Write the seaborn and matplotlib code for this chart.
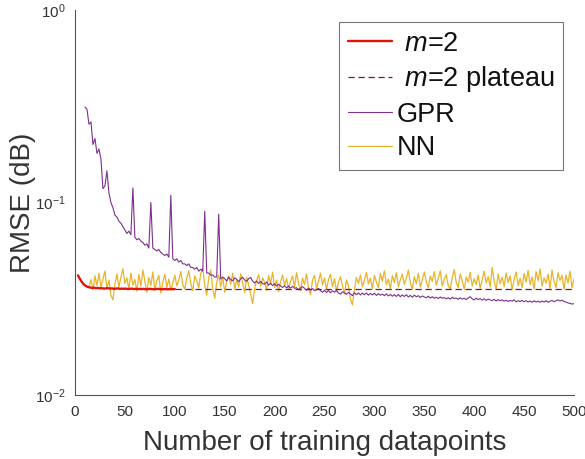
import numpy as np
import pandas as pd
import matplotlib
matplotlib.use("Agg")
import matplotlib.pyplot as plt
import seaborn as sns
from matplotlib.ticker import LogLocator, FixedLocator

# ---------------- data ----------------
m2_x = [3, 5, 7, 9, 11, 13, 15, 17, 19, 21, 23, 25, 27, 29, 31, 33, 35, 37, 39, 41,
        43, 45, 47, 49, 51, 53, 55, 57, 59, 61, 63, 65, 67, 69, 71, 73, 75, 77, 79, 81,
        83, 85, 87, 89, 91, 93, 95, 97, 100]
m2_rmse = [0.0418, 0.0400, 0.0385, 0.0375, 0.0368, 0.0364, 0.0362, 0.0360, 0.0361, 0.0359,
           0.0360, 0.0358, 0.0359, 0.0357, 0.0358, 0.0359, 0.0357, 0.0358, 0.0356, 0.0357,
           0.0358, 0.0356, 0.0357, 0.0356, 0.0357, 0.0355, 0.0356, 0.0357, 0.0355, 0.0356,
           0.0355, 0.0356, 0.0355, 0.0356, 0.0354, 0.0355, 0.0356, 0.0355, 0.0354, 0.0355,
           0.0356, 0.0355, 0.0354, 0.0355, 0.0355, 0.0354, 0.0355, 0.0355, 0.0355]

plateau_x = [100, 500]
plateau_rmse = [0.0355, 0.0355]

gpr_x = list(range(10, 501, 2))
gpr_rmse_milli = [
    313, 305, 255, 262, 200, 215, 180, 190, 168, 118,
    122, 146, 112, 100, 94, 86, 84, 80, 78, 75,
    72, 69, 71, 68, 119, 66, 64, 65, 63, 62,
    60, 61, 58, 100, 58, 57, 56, 57, 55, 54,
    53, 54, 52, 109, 51, 50, 51, 49, 50, 48,
    48, 47, 48, 46, 46, 45, 46, 44, 45, 44,
    90, 43, 43, 42, 42, 41, 41, 87, 40, 41,
    40.2, 39.1, 41.0, 39.8, 39.2, 40.6, 39.9, 38.8, 40.1, 40.9,
    39.6, 38.9, 40.2, 40.8, 39.0, 38.2, 39.1, 38.0, 38.9, 37.9,
    37.6, 38.7, 37.2, 38.1, 37.0, 37.9, 36.8, 37.6, 36.9, 36.2,
    36.9, 36.0, 36.8, 35.9, 36.7, 35.8, 36.1, 35.2, 35.9, 36.6,
    35.8, 35.0, 35.9, 35.1, 35.7, 34.9, 35.2, 35.8, 34.8, 34.2,
    35.0, 34.1, 34.9, 34.0, 34.8, 34.2, 34.9, 33.9, 33.4, 34.3,
    34.0, 33.3, 34.1, 33.5, 32.8, 34.0, 33.2, 33.9, 33.1, 33.8,
    33.2, 33.9, 33.0, 33.7, 33.1, 33.8, 32.9, 33.6, 33.0, 33.4,
    32.8, 33.5, 32.7, 33.3, 32.6, 33.2, 32.5, 33.3, 32.4, 33.1,
    32.5, 33.2, 32.3, 32.9, 32.2, 33.0, 32.4, 32.8, 32.1, 32.7,
    32.3, 32.0, 32.6, 31.9, 32.4, 31.8, 32.2, 31.7, 32.3, 31.8,
    32.1, 31.6, 32.0, 31.5, 32.2, 31.7, 31.9, 31.4, 32.0, 31.5,
    31.8, 31.3, 31.9, 32.4, 31.6, 31.2, 31.8, 31.3, 31.7, 31.1,
    31.6, 31.0, 31.5, 31.2, 30.9, 31.4, 30.8, 31.3, 30.9, 31.2,
    30.7, 31.1, 30.6, 31.0, 30.7, 31.2, 30.5, 30.9, 30.6, 31.0,
    30.5, 30.9, 30.4, 30.8, 30.3, 30.9, 30.4, 30.7, 30.3, 30.8,
    30.4, 30.9, 30.3, 30.7, 31.0, 30.5, 30.9, 31.2, 30.8, 31.1,
    30.6, 30.4, 30.1, 29.9, 29.7, 29.8]

nn_x = list(range(14, 501, 2))
nn_rmse_milli = [
    36.5, 39.8, 35.2, 41.5, 37.0, 42.8, 36.1, 40.2, 44.0, 35.8,
    39.5, 33.0, 31.2, 37.8, 42.5, 36.4, 41.0, 45.2, 38.0, 40.6,
    35.5, 43.0, 37.2, 39.8, 34.6, 42.2, 36.8, 44.5, 38.9, 34.2,
    40.8, 37.0, 43.6, 35.1, 39.4, 41.8, 33.8, 38.6, 42.4, 36.2,
    40.0, 35.0, 38.2, 41.9, 36.9, 39.5, 43.8, 37.3, 35.5, 40.4,
    44.2, 38.0, 34.8, 41.6, 39.2, 36.0, 42.8, 45.5, 37.4, 33.0,
    40.5, 44.6, 35.8, 31.8, 38.5, 42.0, 36.6, 40.8, 34.2, 39.0,
    41.4, 37.6, 43.0, 35.4, 39.8, 36.5, 42.6, 38.2, 34.0, 40.9,
    37.2, 33.6, 29.8, 35.8, 39.4, 42.2, 36.8, 40.6, 38.4, 35.0,
    41.8, 37.9, 43.5, 36.2, 39.6, 34.5, 38.8, 42.0, 37.0, 40.2,
    35.6, 39.0, 41.5, 36.4, 43.2, 38.2, 34.8, 40.5, 37.5, 42.6,
    36.0, 33.2, 39.5, 41.8, 35.8, 38.9, 43.0, 37.2, 40.6, 35.4,
    39.8, 42.4, 36.6, 40.2, 34.6, 38.5, 41.2, 36.9, 33.5, 39.6,
    37.0, 31.5, 29.4, 35.2, 40.8, 38.0, 42.0, 36.5, 39.4, 43.4,
    37.8, 40.5, 35.6, 41.9, 38.6, 36.2, 42.8, 39.0, 44.2, 37.4,
    40.0, 35.8, 41.6, 38.4, 43.2, 36.6, 39.8, 42.5, 37.6, 40.4,
    44.6, 38.2, 35.4, 41.2, 37.8, 42.9, 36.4, 39.6, 43.6, 38.8,
    36.0, 41.5, 38.9, 43.8, 37.2, 40.4, 44.2, 36.8, 39.9, 42.2,
    37.0, 35.6, 40.8, 44.8, 38.4, 36.2, 42.6, 39.2, 35.4, 41.0,
    38.6, 43.4, 36.8, 40.2, 37.4, 42.0, 35.8, 39.6, 44.0, 38.2,
    41.2, 36.4, 46.0, 39.0, 35.5, 42.4, 37.8, 40.9, 36.6, 43.0,
    38.4, 41.6, 35.2, 39.8, 43.6, 37.0, 40.4, 36.2, 42.8, 38.6,
    44.4, 37.4, 41.0, 35.6, 43.8, 39.2, 45.2, 36.8, 40.6, 38.0,
    42.4, 35.8, 44.6, 38.8, 36.2, 43.2, 39.4, 41.8, 35.4, 42.0,
    38.2, 44.0, 36.0, 40.0]

labels = [" $\\mathit{m}$=2", " $\\mathit{m}$=2 plateau", "GPR", "NN"]
x_ticks = [0, 50, 100, 150, 200, 250, 300, 350, 400, 450, 500]

# ---------------- style ----------------
sns.set_style("white")
plt.rcParams["font.family"] = ["Liberation Sans", "DejaVu Sans"]
plt.rcParams["mathtext.fontset"] = "custom"
plt.rcParams["mathtext.rm"] = "Liberation Sans"
plt.rcParams["mathtext.it"] = "Liberation Sans:italic"
plt.rcParams["mathtext.default"] = "regular"

c_red = "#e3120b"
c_plateau = "#7a1638"
c_gpr = "#7e2f8e"
c_nn = "#e9b425"
axis_col = "#555555"
text_col = "#333333"

fig = plt.figure(figsize=(5.85, 4.59), dpi=100)
ax = fig.add_axes([75 / 585, 1 - 395 / 459, 499 / 585, 385 / 459])

df_m2 = pd.DataFrame({"x": m2_x, "y": m2_rmse})
df_pl = pd.DataFrame({"x": plateau_x, "y": plateau_rmse})
df_gpr = pd.DataFrame({"x": gpr_x, "y": np.array(gpr_rmse_milli) / 1000.0})
df_nn = pd.DataFrame({"x": nn_x, "y": np.array(nn_rmse_milli) / 1000.0})

sns.lineplot(data=df_m2, x="x", y="y", ax=ax, color=c_red, lw=1.7, label=labels[0], zorder=5)
sns.lineplot(data=df_pl, x="x", y="y", ax=ax, color=c_plateau, lw=0.9, label=labels[1],
             zorder=4, linestyle=(0, (5, 3)))
sns.lineplot(data=df_gpr, x="x", y="y", ax=ax, color=c_gpr, lw=0.8, label=labels[2], zorder=3)
sns.lineplot(data=df_nn, x="x", y="y", ax=ax, color=c_nn, lw=0.9, label=labels[3], zorder=2)

ax.set_yscale("log")
ax.set_ylim(1e-2, 1e0)
ax.set_xlim(0, 500)
ax.xaxis.set_major_locator(FixedLocator(x_ticks))
ax.yaxis.set_major_locator(LogLocator(base=10, numticks=10))
ax.yaxis.set_minor_locator(LogLocator(base=10, subs=np.arange(2, 10), numticks=20))

for side in ["top", "right"]:
    ax.spines[side].set_visible(False)
for side in ["left", "bottom"]:
    ax.spines[side].set_color(axis_col)
    ax.spines[side].set_linewidth(0.8)

ax.tick_params(axis="both", which="major", direction="in", length=5, width=0.8,
               color=axis_col, labelsize=11, labelcolor=text_col, pad=7)
ax.tick_params(axis="y", which="minor", direction="in", length=3, width=0.7, color=axis_col)
ax.tick_params(axis="x", which="minor", bottom=False)

ax.set_xlabel("Number of training datapoints", fontsize=20, color=text_col, labelpad=8)
ax.set_ylabel("RMSE (dB)", fontsize=20, color=text_col, labelpad=-1)

leg = ax.legend(loc="upper right", bbox_to_anchor=(0.978, 0.969), borderaxespad=0,
                fontsize=19.5, frameon=True, fancybox=False, framealpha=1,
                edgecolor="#777777", handlelength=1.62, handletextpad=0.18,
                labelspacing=0.28, borderpad=0.32)
leg.get_frame().set_linewidth(0.8)
for t in leg.get_texts():
    t.set_color("#111111")

fig.savefig("out.png", dpi=100)
